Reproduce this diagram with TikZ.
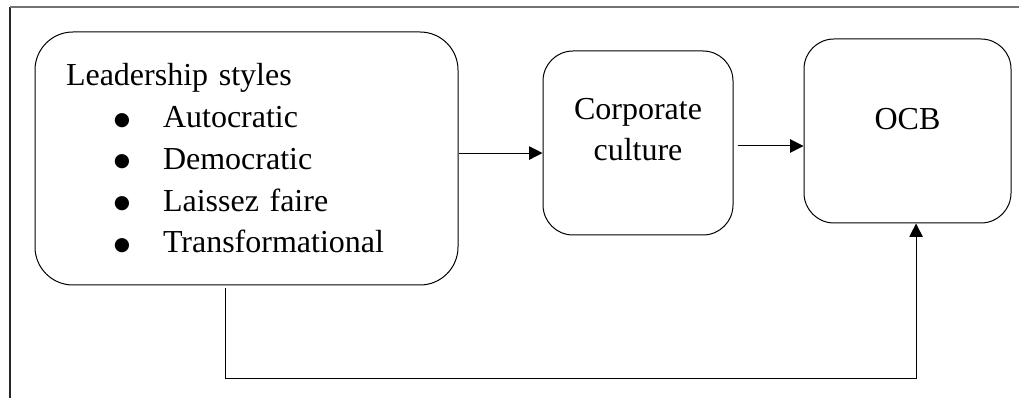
\documentclass[tikz,border=0pt]{standalone}
\usepackage{fontspec}
\setmainfont{Liberation Serif}
\newfontfamily\symfont{DejaVu Sans}
\usetikzlibrary{arrows.meta, calc, positioning}
\tikzset{
    roundBox/.style={draw, line width=0.75pt, rounded corners=#1, inner sep=0pt},
    boxText/.style={font=\fontsize{24}{30.5}\selectfont, inner sep=0pt},
    flowArrow/.style={-{Triangle[length=10pt, width=10pt]}, line width=0.75pt},
    frameLine/.style={line width=0.8pt, black!85},
    frameTop/.style={line width=1.1pt, black!55},
}
\newcommand{\bulletItem}[1]{\hspace*{34pt}\makebox[16pt][c]{\raisebox{2pt}{\symfont\fontsize{14}{14}\selectfont ●}}\hspace{22.75pt}#1}

\begin{document}
\begin{tikzpicture}[x=0.75pt, y=-0.75pt]
        \useasboundingbox (0,0) rectangle (1019,398);

        % frame
        \draw[frameLine] (10,398) -- (10,7);
        \draw[frameTop] (10,7) -- (1019,7);

        \node[roundBox=28.5pt, minimum width=317.25pt, minimum height=189.75pt,
              inner xsep=23.25pt, text width=270.75pt, align=left,
              font=\fontsize{24}{31.3}\selectfont] (lead) at (246.5,158.5)
              {Leadership styles\\
               \bulletItem{Autocratic}\\
               \bulletItem{Democratic}\\
               \bulletItem{Laissez faire}\\
               \bulletItem{Transformational}};
        \node[roundBox=22.5pt, minimum width=142.5pt, minimum height=138pt] (culture) at (638,143) {};
        \node[roundBox=22.5pt, minimum width=155.25pt, minimum height=138pt] (ocb) at (907.5,131) {};

        \node[boxText, align=center] (cultureText) at ([yshift=10pt]culture.center) {Corporate\\culture};
        \node[boxText] (ocbText) at ([yshift=9pt]ocb.center) {OCB};

        \draw[flowArrow] ([yshift=4.1pt]lead.east) -- ([yshift=4.1pt]lead.east -| culture.west);
        \draw[flowArrow] ([xshift=3pt, yshift=-2.25pt]culture.east) -- ([yshift=-2.25pt]culture.east -| ocb.west);
        \draw[flowArrow] ([xshift=-15.4pt, yshift=-2pt]lead.south) -- ++(0,90) -| ([xshift=6.4pt]ocb.south);

    \end{tikzpicture}
\end{document}
